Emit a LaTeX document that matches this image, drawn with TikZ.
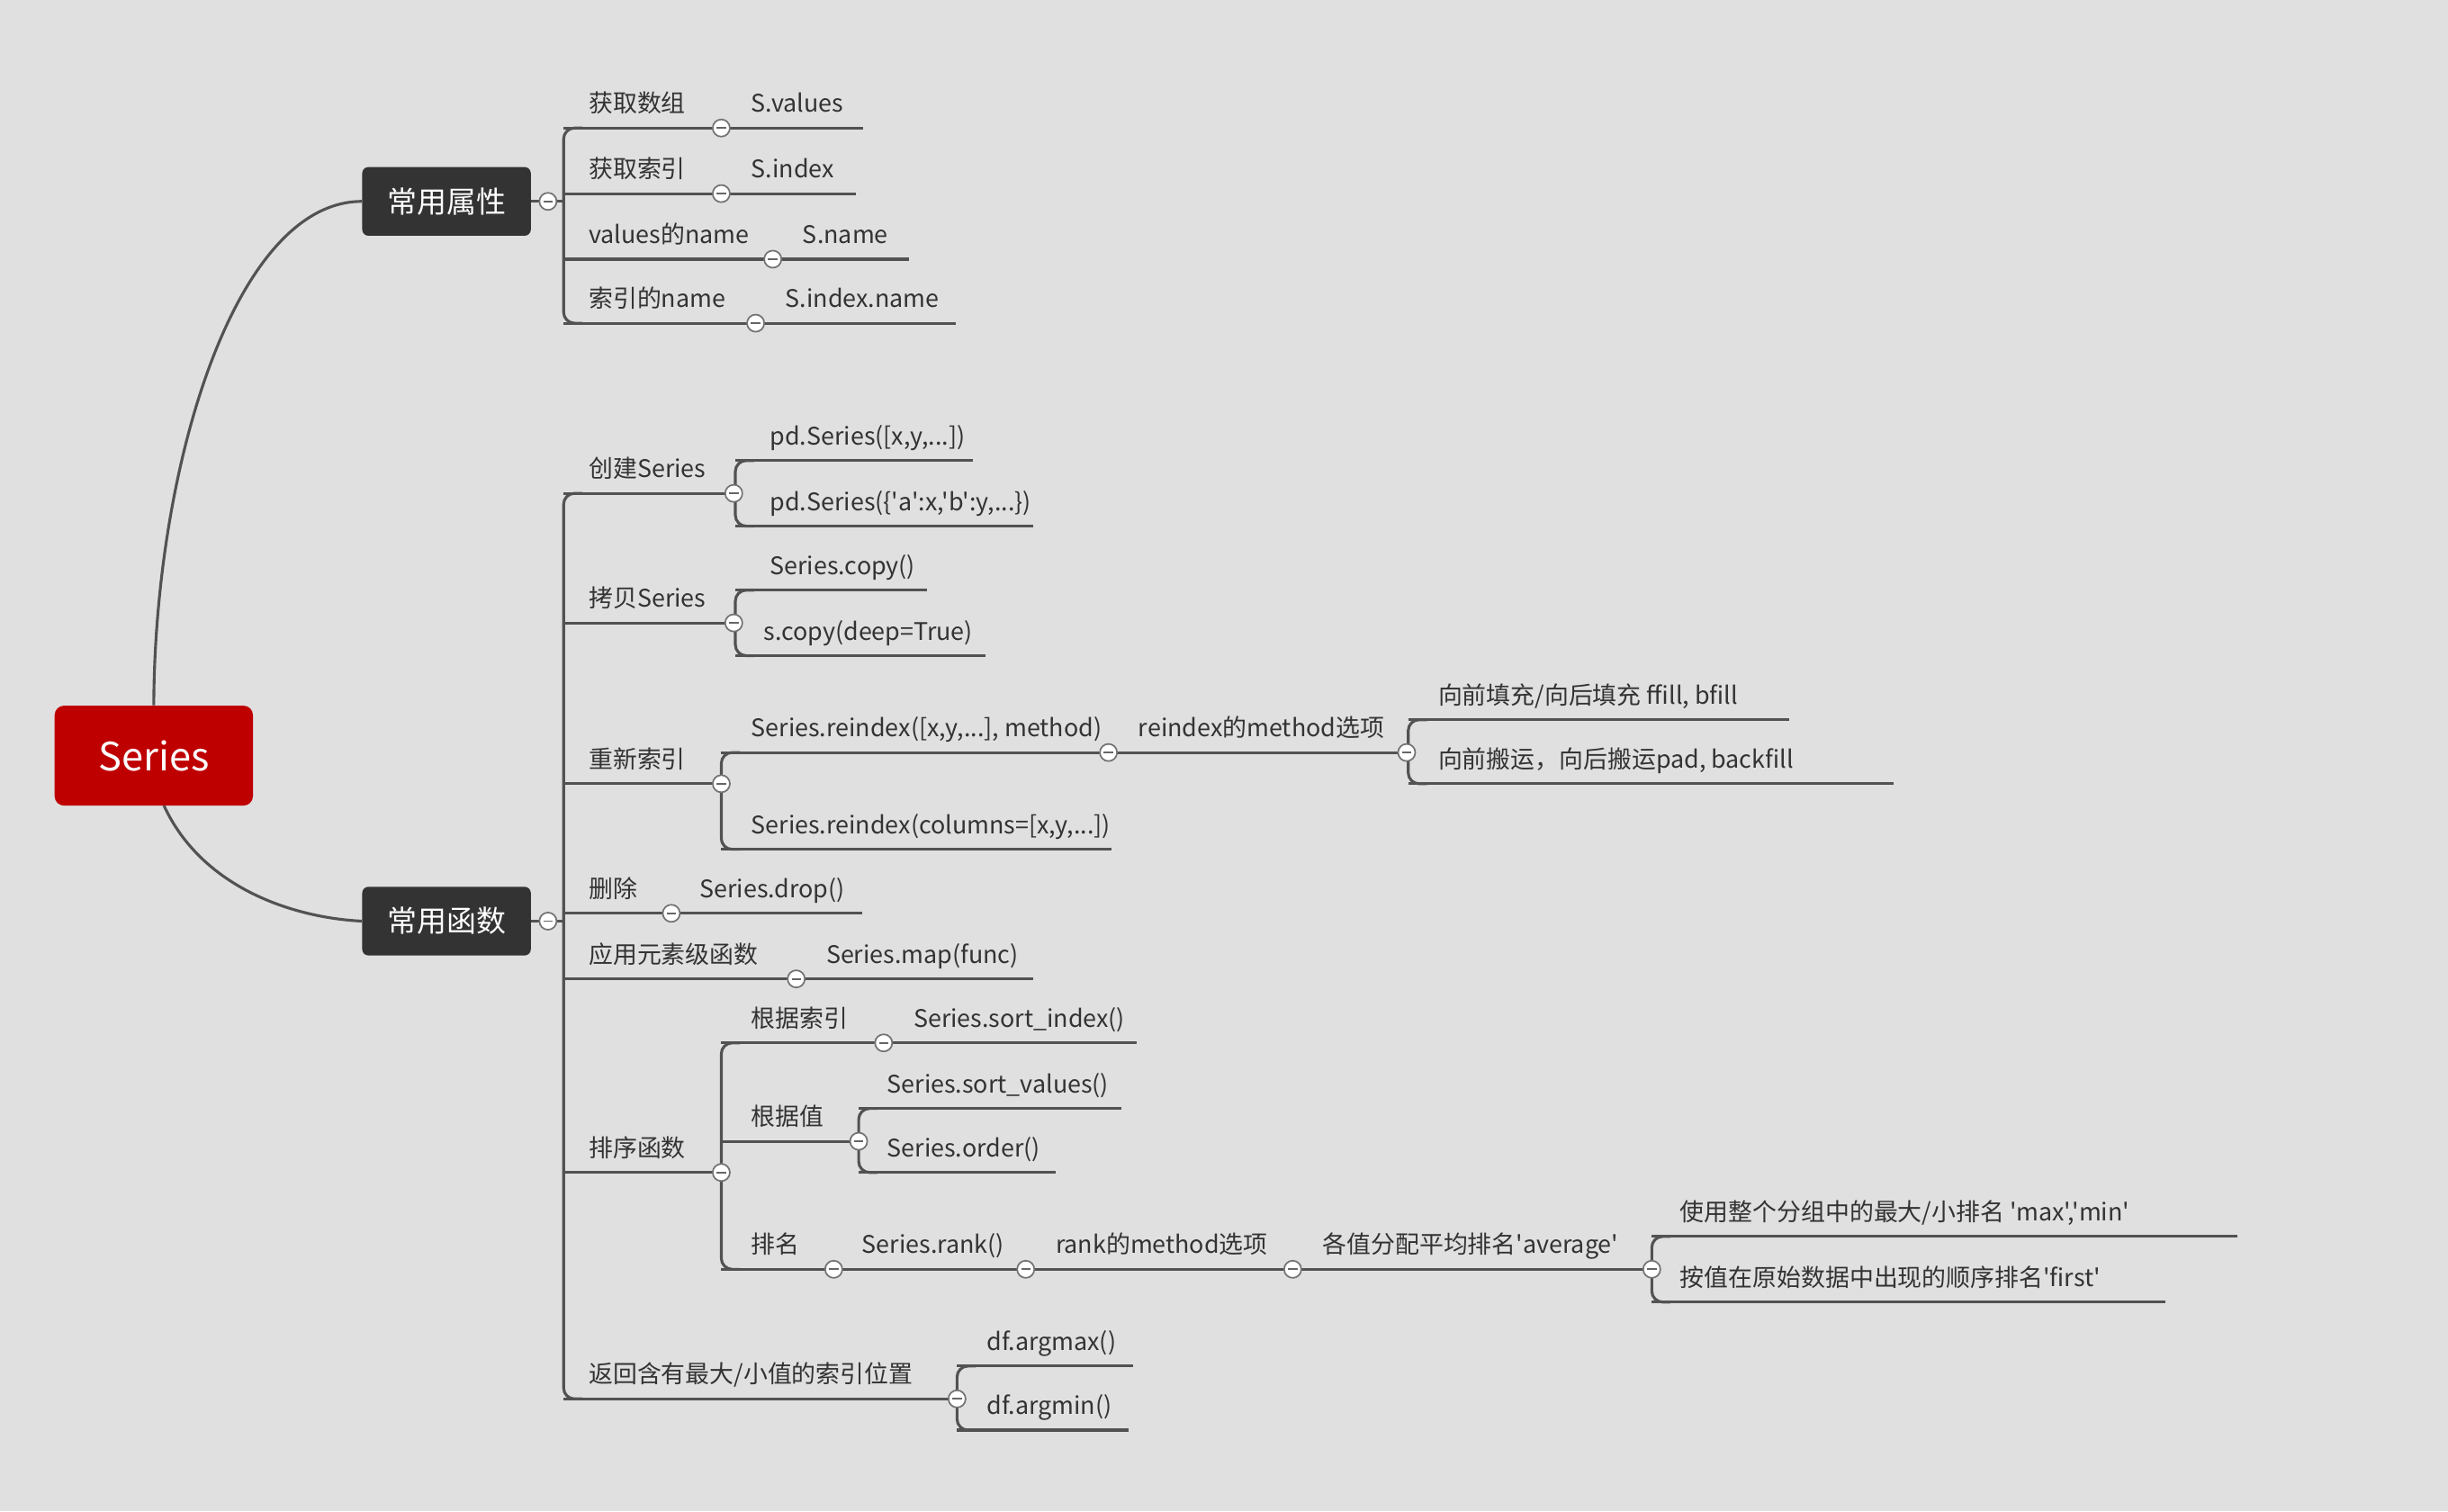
\documentclass[tikz,border=0pt]{standalone}
\usepackage{fontspec}
\setmainfont{Noto Sans CJK SC}
\newfontfamily\mf{Noto Sans CJK SC}
\begin{document}
\begin{tikzpicture}[x=1pt,y=-1pt,
  ln/.style={draw=black!68,line width=1.8pt},
  mk/.style={circle,draw=black!55,fill=white,line width=1pt,minimum size=11pt,inner sep=0pt,
    path picture={\draw[black!60,line width=1pt] ([xshift=-3pt]path picture bounding box.center)--([xshift=3pt]path picture bounding box.center);}},
  tx/.style={anchor=base west,inner sep=0pt,font=\mf\fontsize{15.5}{16}\selectfont,text=black!80},
  dk/.style={rounded corners=4pt,fill=black!80,text=white,minimum width=108pt,minimum height=44pt,font=\mf\fontsize{19}{19}\selectfont},
]
\fill[black!12] (0,0) rectangle (1568,968);
\useasboundingbox (0,0) rectangle (1568,968);
\newcommand{\br}[3]{\draw[ln,rounded corners=7pt] (#1+12,#2)--(#1,#2)--(#1,#3)--(#1+12,#3);}
\newcommand{\lf}[5]{\draw[ln] (#1,#2)--(#3,#2); \node[tx] at (#4,#2-10) {#5};}
% roots
\node[rounded corners=6pt,fill=red!75!black,text=white,minimum width=127pt,minimum height=64pt,font=\mf\fontsize{25}{25}\selectfont] (series) at (98.5,484) {Series};
\node[dk] (attr) at (286,129) {常用属性};
\node[dk] (func) at (286,590) {常用函数};
\draw[ln] (series.north) .. controls (99,300) and (150,129) .. (attr.west);
\draw[ln] (105,516) .. controls (130,570) and (190,588) .. (func.west);
% group 1
\draw[ln] (attr.east)--(361,129);
\br{361}{82}{207}
\lf{361}{82}{553}{377}{获取数组}\node[tx] at (481,72) {S.values};
\lf{361}{124}{548}{377}{获取索引}\node[tx] at (481,114) {S.index};
\lf{361}{166}{582}{377}{values的name}\node[tx] at (514,156) {S.name};
\lf{361}{207}{612}{377}{索引的name}\node[tx] at (503,197) {S.index.name};
\node[mk] (m1) at (462,82) {};\node[mk] (m2) at (462,124) {};\node[mk] (m3) at (495,166) {};\node[mk] (m4) at (484,207) {};
\node[mk] (a0) at (351,129) {};
% group 2
\draw[ln] (func.east)--(361,590);
\br{361}{316}{896}
% 创建
\lf{361}{316}{470}{377}{创建Series}
\br{471}{295}{337}
\lf{471}{295}{623}{493}{pd.Series([x,y,...])}
\lf{471}{337}{662}{493}{pd.Series(\{'a':x,'b':y,...\})}
\node[mk] (c1) at (470,316) {};
% 拷贝
\lf{361}{399}{470}{377}{拷贝Series}
\br{471}{378}{420}
\lf{471}{378}{594}{493}{Series.copy()}
\lf{471}{420}{631}{489}{s.copy(deep=True)}
\node[mk] (c2) at (470,399) {};
% 重新索引
\lf{361}{502}{462}{377}{重新索引}
\br{462}{482}{544}
\lf{462}{482}{901}{481}{Series.reindex([x,y,...], method)}
\node[tx] at (729,472) {reindex的method选项};
\br{902}{461}{502}
\lf{902}{461}{1146}{921}{向前填充/向后填充 ffill, bfill}
\lf{902}{502}{1213}{921}{向前搬运，向后搬运pad, backfill}
\lf{462}{544}{712}{481}{Series.reindex(columns=[x,y,...])}
\node[mk] (c3) at (462,502) {};\node[mk] (c4) at (710,482) {};\node[mk] (c5) at (901,482) {};
% 删除
\lf{361}{585}{552}{377}{删除}\node[tx] at (448,575) {Series.drop()};
\node[mk] (c6) at (430,585) {};
% 应用
\lf{361}{627}{662}{377}{应用元素级函数}\node[tx] at (529,617) {Series.map(func)};
\node[mk] (c7) at (510,627) {};
% 排序
\lf{361}{751}{462}{377}{排序函数}
\br{462}{668}{813}
\lf{462}{668}{728}{481}{根据索引}\node[tx] at (585,658) {Series.sort\_index()};
\node[mk] (s1) at (566,668) {};
\lf{462}{731}{550}{481}{根据值}
\br{550}{710}{751}
\lf{550}{710}{718}{568}{Series.sort\_values()}
\lf{550}{751}{676}{568}{Series.order()}
\node[mk] (s2) at (550,731) {};
\lf{462}{813}{1058}{481}{排名}
\node[tx] at (552,803) {Series.rank()};
\node[tx] at (676,803) {rank的method选项};
\node[tx] at (847,803) {各值分配平均排名'average'};
\br{1058}{792}{834}
\lf{1058}{792}{1433}{1076}{使用整个分组中的最大/小排名 'max','min'}
\lf{1058}{834}{1387}{1076}{按值在原始数据中出现的顺序排名'first'}
\node[mk] (s3) at (534,813) {};\node[mk] (s4) at (657,813) {};\node[mk] (s5) at (828,813) {};\node[mk] (s6) at (1058,813) {};
\node[mk] (c8) at (462,751) {};
% 返回
\lf{361}{896}{613}{377}{返回含有最大/小值的索引位置}
\br{613}{875}{916}
\lf{613}{875}{726}{632}{df.argmax()}
\lf{613}{916}{723}{632}{df.argmin()}
\node[mk] (c9) at (613,896) {};
\node[mk] (f0) at (351,590) {};
\end{tikzpicture}
\end{document}
